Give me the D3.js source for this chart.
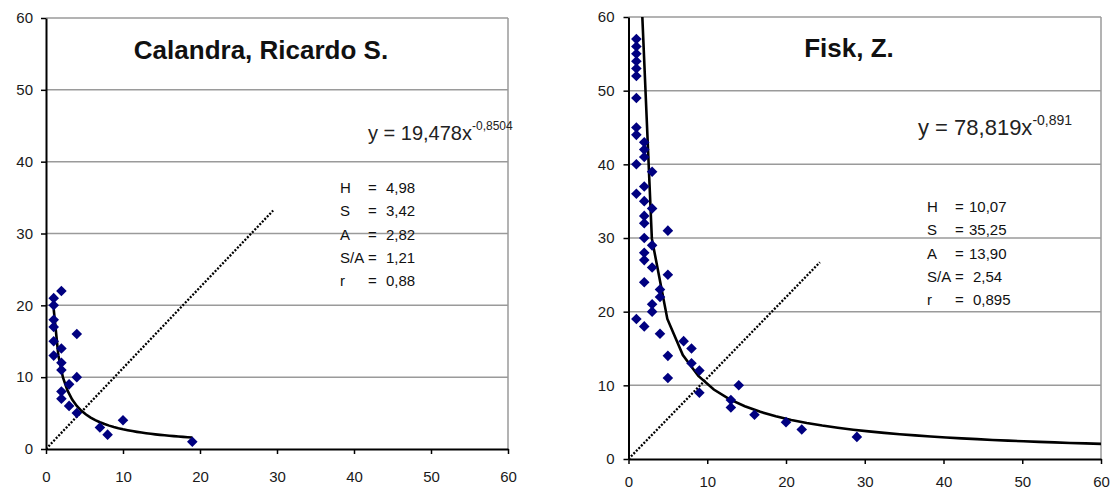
<!DOCTYPE html>
<html>
<head>
<meta charset="utf-8">
<script src="https://cdn.jsdelivr.net/npm/d3@7"></script>
<style>
  body { margin: 0; background: #fff; }
  svg { display: block; font-family: "Liberation Sans", Arial, sans-serif; }
  .tick text { font-size: 15px; fill: #1a1a1a; }
</style>
</head>
<body>
<div id="chart"></div>
<script>
var svgWidth = 1112;
var svgHeight = 493;

// axis ticks, shared by both panels
var tickVals = [0, 10, 20, 30, 40, 50, 60];

// Calandra, Ricardo S.
var calX = [1, 1, 2, 1, 1, 1, 1, 2, 2, 2, 4, 4, 3, 2, 2, 3, 4, 7, 8, 10, 19];
var calY = [21, 20, 22, 18, 17, 15, 13, 14, 12, 11, 16, 10, 9, 8, 7, 6, 5, 3, 2, 4, 1];
var calFit = [19.478, -0.8504];
var calFitRange = [1, 19];
var calDiag = [[0, 0], [29.5, 33.2]];
var calStats = [["H", "4,98"], ["S", "3,42"], ["A", "2,82"], ["S/A", "1,21"], ["r", "0,88"]];

// Fisk, Z.
var fiskX = [1, 1, 1, 1, 1, 1, 1, 1, 1, 1, 1, 1,
             2, 2, 2, 2, 2, 2, 2, 2, 2, 2, 2, 2,
             3, 3, 3, 3, 3, 3,
             4, 4, 4,
             5, 5, 5, 5,
             7, 8, 8, 9, 9, 13, 13, 14, 16, 20, 22, 29];
var fiskY = [57, 56, 55, 54, 53, 52, 49, 45, 44, 40, 36, 19,
             43, 42, 41, 37, 35, 33, 32, 30, 28, 27, 24, 18,
             39, 34, 29, 26, 21, 20,
             23, 22, 17,
             31, 25, 14, 11,
             16, 15, 13, 12, 9, 8, 7, 10, 6, 5, 4, 3];
var fiskFit = [78.819, -0.891];
var fiskFitRange = [1, 60];
var fiskDiag = [[0, 0], [24.3, 26.7]];
var fiskStats = [["H", "10,07"], ["S", "35,25"], ["A", "13,90"], ["S/A", "2,54"], ["r", "0,895"]];

var svg = d3.select("#chart").append("svg")
  .attr("width", svgWidth)
  .attr("height", svgHeight);

function drawPanel(p) {
  var g = svg.append("g");

  var x = d3.scaleLinear().domain([0, 60]).range([p.left, p.right]);
  var y = d3.scaleLinear().domain([0, 60]).range([p.bottom, p.top]);

  // gridlines
  g.selectAll(".grid")
    .data(tickVals.slice(1))
    .enter()
    .append("line")
    .attr("x1", x(0)).attr("x2", x(60))
    .attr("y1", d => y(d)).attr("y2", d => y(d))
    .attr("stroke", "#9a9a9a")
    .attr("stroke-width", 1.5);

  // right border of plot area
  g.append("line")
    .attr("x1", x(60)).attr("x2", x(60))
    .attr("y1", y(0)).attr("y2", y(60))
    .attr("stroke", "#9a9a9a")
    .attr("stroke-width", 1.5);

  var clipId = "clip" + p.id;
  svg.append("clipPath").attr("id", clipId)
    .append("rect")
    .attr("x", x(0)).attr("y", y(60))
    .attr("width", x(60) - x(0)).attr("height", y(0) - y(60));

  var plot = g.append("g").attr("clip-path", "url(#" + clipId + ")");

  // dotted reference line
  plot.append("path")
    .datum(p.diag)
    .attr("d", d3.line().x(d => x(d[0])).y(d => y(d[1])))
    .attr("fill", "none")
    .attr("stroke", "#000")
    .attr("stroke-width", 2.3)
    .attr("stroke-dasharray", "2,1.6");

  // power trendline, sampled in straight segments
  var steps = 30;
  var fitPts = d3.range(steps + 1).map(function(i) {
    var xv = p.fitRange[0] + i * (p.fitRange[1] - p.fitRange[0]) / steps;
    return [xv, p.fit[0] * Math.pow(xv, p.fit[1])];
  });
  plot.append("path")
    .datum(fitPts)
    .attr("d", d3.line().x(d => x(d[0])).y(d => y(d[1])))
    .attr("fill", "none")
    .attr("stroke", "#000")
    .attr("stroke-width", 2.6);

  // points
  var pts = p.xs.map((v, i) => [v, p.ys[i]]);
  plot.selectAll(".pt")
    .data(pts)
    .enter()
    .append("path")
    .attr("d", d3.symbol().type(d3.symbolSquare).size(56))
    .attr("transform", d => `translate(${x(d[0])},${y(d[1])}) rotate(45)`)
    .attr("fill", "#000080");

  // axes
  var xAxis = g.append("g")
    .attr("transform", `translate(0,${y(0)})`)
    .call(d3.axisBottom(x).tickValues(tickVals).tickSize(5).tickSizeOuter(0).tickPadding(p.xPad));
  var yAxis = g.append("g")
    .attr("transform", `translate(${x(0)},0)`)
    .call(d3.axisLeft(y).tickValues(tickVals).tickSize(5).tickSizeOuter(0).tickPadding(p.yPad));
  [xAxis, yAxis].forEach(function(a) {
    a.select(".domain").attr("stroke", "#000").attr("stroke-width", 2);
    a.selectAll(".tick line").attr("stroke", "#000").attr("stroke-width", 1.5);
  });

  // title
  g.append("text")
    .attr("x", p.titleX).attr("y", p.titleY)
    .attr("text-anchor", "middle")
    .attr("font-size", "26px")
    .attr("font-weight", "bold")
    .attr("fill", "#111")
    .text(p.title);

  // equation
  var eq = g.append("text")
    .attr("x", p.eqX).attr("y", p.eqY)
    .attr("font-size", p.eqSize + "px")
    .attr("fill", "#222");
  eq.append("tspan").text(p.eqMain);
  eq.append("tspan").attr("dy", -10).attr("font-size", (p.eqSize - 8) + "px").text(p.eqExp);

  // stats block
  var st = g.append("g").attr("font-size", "15px").attr("fill", "#111");
  p.stats.forEach(function(s, i) {
    var yy = p.statY + i * 23.3;
    var shift = s[1].indexOf(",") === 1 ? 4 : 0;
    st.append("text").attr("x", p.statX).attr("y", yy).text(s[0]);
    st.append("text").attr("x", p.statX + 28).attr("y", yy).text("=");
    st.append("text").attr("x", p.statX + 42 + shift).attr("y", yy).text(s[1]);
  });
}

drawPanel({
  id: 1, left: 46, right: 508, top: 18, bottom: 449, xPad: 17, yPad: 8,
  xs: calX, ys: calY, fit: calFit, fitRange: calFitRange, diag: calDiag,
  title: "Calandra, Ricardo S.", titleX: 261, titleY: 59,
  eqMain: "y = 19,478x", eqExp: "-0,8504", eqSize: 20, eqX: 368, eqY: 140,
  stats: calStats, statX: 340, statY: 193
});

drawPanel({
  id: 2, left: 628.5, right: 1101, top: 17, bottom: 459, xPad: 12, yPad: 9,
  xs: fiskX, ys: fiskY, fit: fiskFit, fitRange: fiskFitRange, diag: fiskDiag,
  title: "Fisk, Z.", titleX: 849, titleY: 57,
  eqMain: "y = 78,819x", eqExp: "-0,891", eqSize: 22, eqX: 918, eqY: 135,
  stats: fiskStats, statX: 927, statY: 212
});
</script>
</body>
</html>
